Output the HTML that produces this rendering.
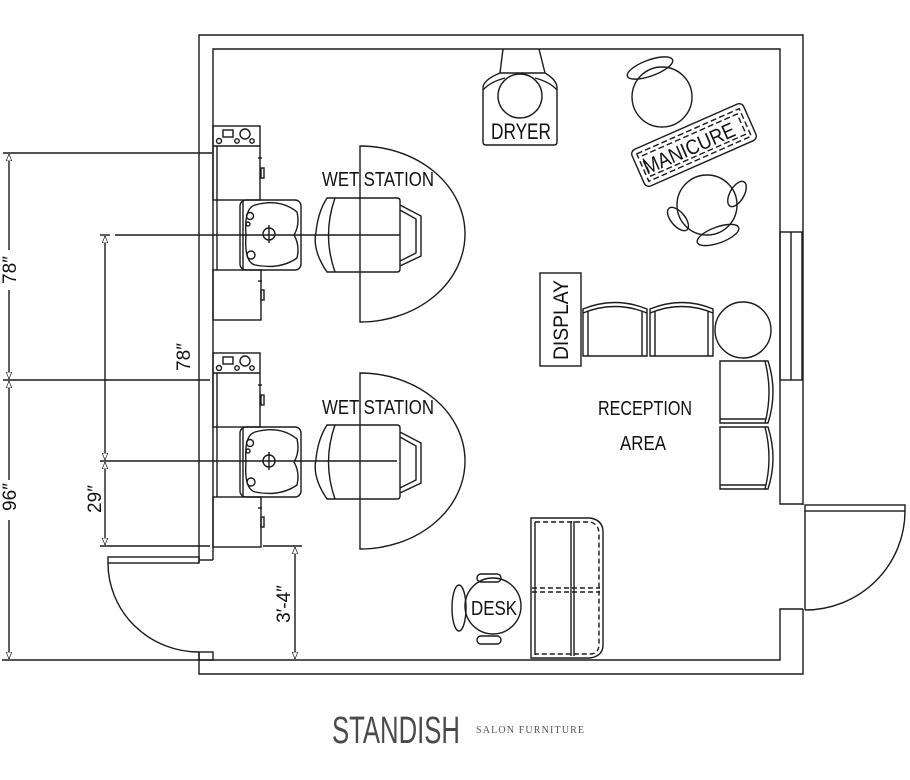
<!DOCTYPE html>
<html><head><meta charset="utf-8"><style>
html,body{margin:0;padding:0;background:#fff;}
svg{display:block;}
text{font-family:"Liberation Sans",sans-serif;fill:#111;}
</style></head><body>
<svg width="910" height="780" viewBox="0 0 910 780" xmlns="http://www.w3.org/2000/svg">
<defs>
<marker id="ar" viewBox="0 0 10 10" refX="10" refY="5" markerWidth="7" markerHeight="10" orient="auto-start-reverse" markerUnits="userSpaceOnUse">
<path d="M0,1 L10,5 L0,9 Z" fill="#fff" stroke="#222" stroke-width="1"/>
</marker>
<g id="station">
  <rect x="213" y="126" width="47" height="74" fill="none"/>
  <line x1="213" y1="146" x2="260" y2="146"/>
  <rect x="223" y="130" width="10" height="7" fill="none"/>
  <circle cx="245" cy="134" r="5" fill="none"/>
  <circle cx="219" cy="141" r="2.5" fill="none"/>
  <circle cx="237" cy="141" r="2.2" fill="none"/>
  <circle cx="252" cy="141" r="2.2" fill="none"/>
  <line x1="217" y1="146" x2="217" y2="270"/>
  <rect x="261" y="168" width="3" height="10" fill="none"/>
  <line x1="258" y1="158" x2="262" y2="158"/>
  <rect x="213" y="270" width="48" height="50" fill="none"/>
  <rect x="261" y="290" width="3" height="10" fill="none"/>
  <line x1="258" y1="281" x2="262" y2="281"/>
  <rect x="240" y="200" width="61" height="70" rx="6" fill="none"/>
  <line x1="243" y1="200" x2="243" y2="270"/>
  <path d="M255,205 Q280,198 297,212 Q300,225 294,235 Q300,245 297,258 Q280,270 255,265 Q244,262 246,235 Q244,208 255,205Z" fill="none"/>
  <circle cx="250" cy="216" r="3.5" fill="none"/>
  <circle cx="248" cy="224" r="2" fill="none"/>
  <circle cx="251" cy="255" r="4" fill="none"/>
  <circle cx="269" cy="234" r="6" fill="none"/>
  <line x1="269" y1="225" x2="269" y2="243"/>
  <path d="M327,198 L397,198 Q400,198 400,201 L400,269 Q400,272 397,272 L327,272 Q312,250 316,232 Q318,212 327,198Z" fill="none"/>
  <path d="M335,198 Q322,235 335,272" fill="none"/>
  <path d="M400,205 L421,216 L421,256 L400,266" fill="none"/>
  <path d="M400,210 L416,219 L416,253 L400,261" fill="none"/>
  <path d="M360,146 A105,88 0 0 1 360,322 Z" fill="none"/>
</g>
</defs>
<g stroke="#1a1a1a" stroke-width="1.4" fill="none">
  <polyline points="199,563 199,35 803,35 803,505"/>
  <polyline points="803,609 803,674 199,674 199,652"/>
  <polyline points="213,560 213,49 780,49 780,504 803,504"/>
  <polyline points="803,609 780,609 780,660 213,660"/>
  <rect x="780" y="232" width="22" height="148"/>
  <line x1="791" y1="232" x2="791" y2="380"/>
  <rect x="805" y="505" width="100" height="6"/>
  <line x1="805" y1="511" x2="805" y2="610"/>
  <path d="M905,511 A100,99 0 0 1 805,610"/>
  <rect x="108" y="557" width="91" height="6"/>
  <path d="M108,563 A91,89 0 0 0 199,652"/>
  <rect x="199" y="652" width="14" height="8"/>
  <line x1="199" y1="560" x2="213" y2="560"/>
  <line x1="3" y1="153" x2="212" y2="153"/>
  <line x1="3" y1="380" x2="210" y2="380"/>
  <line x1="2" y1="660" x2="213" y2="660"/>
  <line x1="100" y1="235" x2="110" y2="235"/>
  <line x1="115" y1="235" x2="400" y2="235"/>
  <line x1="100" y1="461" x2="397" y2="461"/>
  <line x1="100" y1="546" x2="210" y2="546"/>
  <line x1="263" y1="546" x2="302" y2="546"/>
  <line x1="9" y1="154" x2="9" y2="250" marker-start="url(#ar)"/>
  <line x1="9" y1="290" x2="9" y2="379" marker-end="url(#ar)"/>
  <line x1="9" y1="381" x2="9" y2="480" marker-start="url(#ar)"/>
  <line x1="9" y1="520" x2="9" y2="659" marker-end="url(#ar)"/>
  <line x1="105" y1="236" x2="105" y2="460" marker-start="url(#ar)" marker-end="url(#ar)"/>
  <line x1="105" y1="462" x2="105" y2="545" marker-start="url(#ar)" marker-end="url(#ar)"/>
  <line x1="295" y1="547" x2="295" y2="659" marker-start="url(#ar)" marker-end="url(#ar)"/>
  <use href="#station"/>
  <use href="#station" transform="translate(0,227)"/>
  <path d="M483,88 Q483,80 500,73 L545,73 Q557,80 557,88 L557,142 Q557,145 554,145 L486,145 Q483,145 483,142 Z"/>
  <path d="M483,90 Q490,82 505,78 M557,90 Q550,82 535,78"/>
  <path d="M500,73 L503,49 M539,49 L545,73"/>
  <circle cx="520" cy="96" r="22"/>
  <g transform="translate(694,145) rotate(-23.8)">
    <rect x="-61" y="-20" width="122" height="40" rx="5"/>
    <rect x="-56" y="-15" width="112" height="30" stroke-dasharray="6,3"/>
    <rect x="-52" y="-11" width="104" height="22" stroke-dasharray="6,3"/>
  </g>
  <circle cx="662" cy="97" r="30"/>
  <ellipse cx="650" cy="68" rx="24" ry="8" transform="rotate(-20 650 68)"/>
  <circle cx="707" cy="205" r="30"/>
  <ellipse cx="678" cy="219" rx="14" ry="7" transform="rotate(50 678 219)"/>
  <ellipse cx="737" cy="194" rx="14" ry="7" transform="rotate(-60 737 194)"/>
  <ellipse cx="718" cy="235" rx="22" ry="8" transform="rotate(-20 718 235)"/>
  <rect x="540" y="273" width="41" height="93"/>
  <path d="M583,356 L583,309 Q615,296 647,309 L647,356 Z"/>
  <path d="M583,313 Q615,300 647,313 M588,311 L588,356 M642,311 L642,356"/>
  <path d="M650,356 L650,309 Q682,296 713,309 L713,356 Z"/>
  <path d="M650,313 Q682,300 713,313 M655,311 L655,356 M708,311 L708,356"/>
  <circle cx="743" cy="330" r="28"/>
  <path d="M720,361 L768,361 Q778,392 768,423 L720,423 Z"/>
  <path d="M765,361 Q773,392 765,423 M720,419 L766,419"/>
  <path d="M720,427 L768,427 Q778,458 768,489 L720,489 Z"/>
  <path d="M765,427 Q773,458 765,489 M720,485 L766,485"/>
  <circle cx="493" cy="606" r="28"/>
  <ellipse cx="459" cy="608" rx="7" ry="23"/>
  <rect x="477" y="574" width="24" height="8" rx="4"/>
  <rect x="477" y="636" width="24" height="8" rx="4"/>
  <path d="M531,518 L590,518 Q603,520 603,532 L603,645 Q603,656 590,658 L531,658 Z"/>
  <line x1="535" y1="522" x2="535" y2="655"/>
  <line x1="571" y1="521" x2="571" y2="656"/>
  <line x1="574" y1="521" x2="574" y2="656"/>
  <path d="M535,522 L590,522 Q599,524 599,534 L599,644 Q599,654 590,654 L535,654" stroke-dasharray="5,3"/>
  <line x1="532" y1="588" x2="600" y2="588" stroke-dasharray="5,3"/>
  <line x1="532" y1="592" x2="600" y2="592" stroke-dasharray="5,3"/>
</g>
<g font-size="20">
  <text x="378" y="186" text-anchor="middle" textLength="112" lengthAdjust="spacingAndGlyphs">WET STATION</text>
  <text x="378" y="414" text-anchor="middle" textLength="112" lengthAdjust="spacingAndGlyphs">WET STATION</text>
  <text x="521" y="139" text-anchor="middle" font-size="22" textLength="60" lengthAdjust="spacingAndGlyphs">DRYER</text>
  <text x="0" y="0" font-size="21" text-anchor="middle" transform="translate(692,155) rotate(-23.8)" textLength="98" lengthAdjust="spacingAndGlyphs">MANICURE</text>
  <text x="0" y="0" font-size="21" text-anchor="middle" transform="translate(568,320) rotate(-90)" textLength="80" lengthAdjust="spacingAndGlyphs">DISPLAY</text>
  <text x="645" y="415" text-anchor="middle" textLength="94" lengthAdjust="spacingAndGlyphs">RECEPTION</text>
  <text x="643" y="450" text-anchor="middle" textLength="46" lengthAdjust="spacingAndGlyphs">AREA</text>
  <text x="494" y="615" text-anchor="middle" textLength="46" lengthAdjust="spacingAndGlyphs">DESK</text>
  <text x="0" y="0" font-size="19" text-anchor="middle" transform="translate(16,270) rotate(-90)">78″</text>
  <text x="0" y="0" font-size="19" text-anchor="middle" transform="translate(16,497) rotate(-90)">96″</text>
  <text x="0" y="0" font-size="19" text-anchor="middle" transform="translate(190,357) rotate(-90)">78″</text>
  <text x="0" y="0" font-size="19" text-anchor="middle" transform="translate(101,499) rotate(-90)">29″</text>
  <text x="0" y="0" font-size="19" text-anchor="middle" transform="translate(290,604) rotate(-90)">3′-4″</text>
</g>
<text x="332" y="743" font-size="38" style="fill:#4a4a4a" textLength="128" lengthAdjust="spacingAndGlyphs">STANDISH</text>
<text x="476" y="733" font-size="10" style="fill:#555;font-family:'Liberation Serif',serif" textLength="108" lengthAdjust="spacing">SALON FURNITURE</text>
</svg>
</body></html>
